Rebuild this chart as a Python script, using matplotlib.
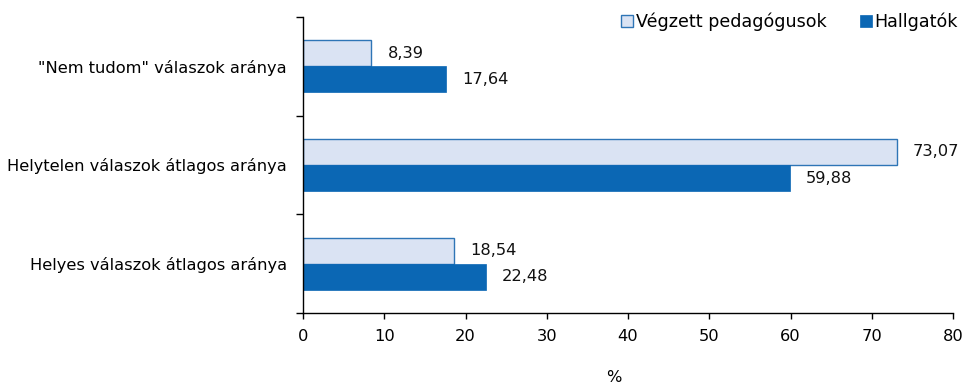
import matplotlib
matplotlib.use("Agg")
import matplotlib.pyplot as plt
import numpy as np

categories = ['"Nem tudom" válaszok aránya', 'Helytelen válaszok átlagos aránya', 'Helyes válaszok átlagos aránya']
vegzett = [8.39, 73.07, 18.54]
hallgatok = [17.64, 59.88, 22.48]
series_names = ["Végzett pedagógusok", "Hallgatók"]
xticks = [0, 10, 20, 30, 40, 50, 60, 70, 80]

def fmt(v):
    return f"{v:.2f}".replace(".", ",")

FS = 11.7
plt.rcParams['font.family'] = ['DejaVu Sans']
fig = plt.figure(figsize=(9.67, 3.86), dpi=100)
ax = fig.add_axes([303/967, 1 - 313/386, 650/967, 296/386])

n = len(categories)
pos = np.arange(n)[::-1].astype(float)
h = 0.265
light_fill = "#dae3f3"
light_edge = "#2e75b6"
dark = "#0b67b4"

ax.barh(pos + h/2, vegzett, height=h, color=light_fill, edgecolor=light_edge, linewidth=1.0, label=series_names[0])
ax.barh(pos - h/2, hallgatok, height=h, color=dark, edgecolor=dark, linewidth=0.5, label=series_names[1])

for p, v in zip(pos, vegzett):
    ax.text(v + 2.0, p + h/2, fmt(v), va="center", ha="left", fontsize=FS, color="#111111")
for p, v in zip(pos, hallgatok):
    ax.text(v + 2.0, p - h/2, fmt(v), va="center", ha="left", fontsize=FS, color="#111111")

ax.set_xlim(0, 80)
ax.set_ylim(-0.5, n - 0.5)
ax.set_xticks(xticks)
ax.set_xticklabels([str(t) for t in xticks], fontsize=FS)
ax.set_yticks(pos)
ax.set_yticklabels(categories, fontsize=FS)
ax.tick_params(axis="y", length=0, pad=11.5)
ax.set_yticks(np.arange(-0.5, n, 1.0), minor=True)
ax.tick_params(axis="y", which="minor", length=5, width=1)
ax.tick_params(axis="x", length=4.5, width=1, direction="out", pad=7)

for s in ["top", "right"]:
    ax.spines[s].set_visible(False)
ax.spines["left"].set_linewidth(1)
ax.spines["bottom"].set_linewidth(1)

fig.text(614/967, 1 - 377/386, "%", ha="center", va="center", fontsize=FS)

leg = fig.legend(loc="center right", bbox_to_anchor=(958/967, 1 - 22/386), ncol=2, frameon=False,
                 fontsize=12.6, handlelength=0.7, handleheight=0.7, handletextpad=0.15,
                 columnspacing=1.9, borderaxespad=0, borderpad=0)

fig.savefig("out.png", dpi=100)
